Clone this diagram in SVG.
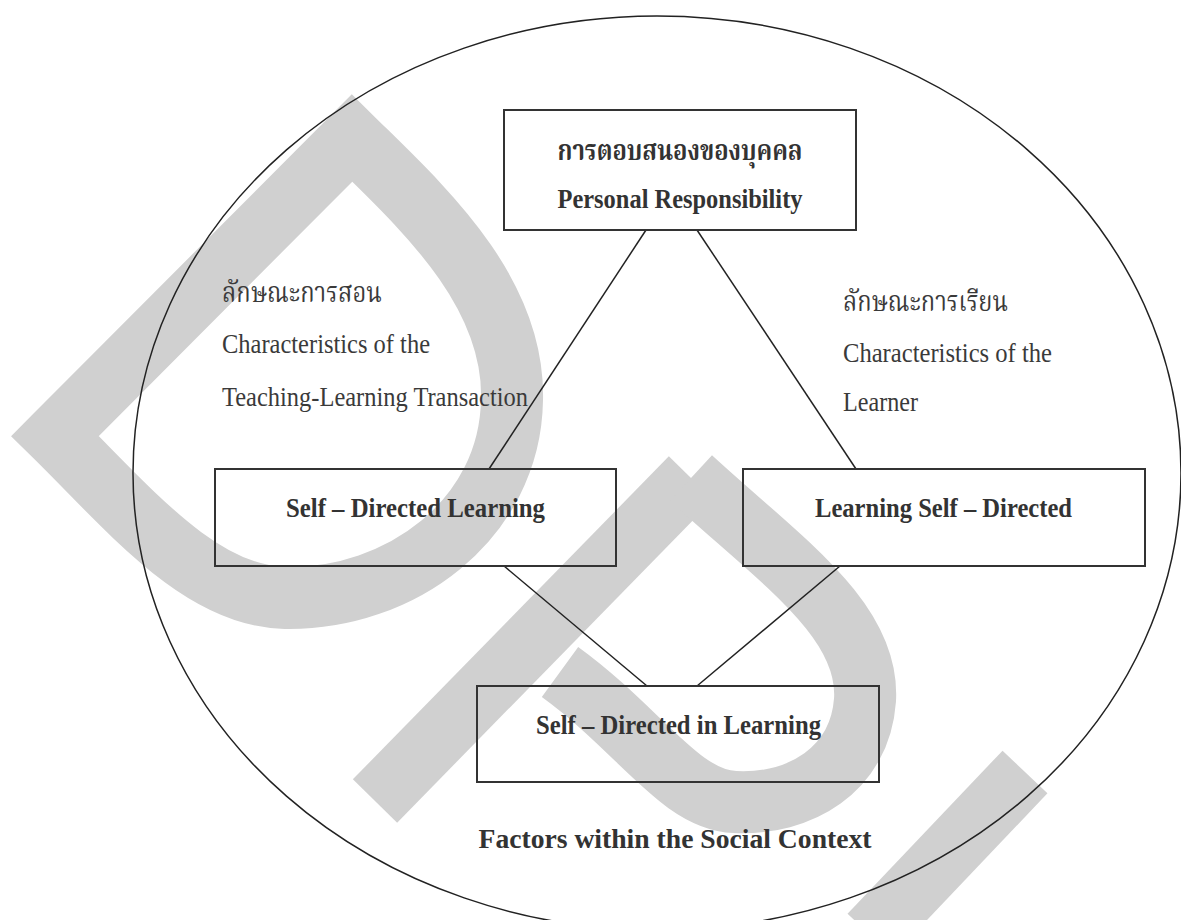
<svg xmlns="http://www.w3.org/2000/svg" width="1181" height="920" viewBox="0 0 1181 920">
<style>
.wm{fill:none;stroke:#d0d0d0;stroke-width:62;stroke-linejoin:miter;stroke-miterlimit:10;stroke-linecap:butt}
.box{fill:none;stroke:#333;stroke-width:2}
.ln{fill:none;stroke:#222;stroke-width:1.5}
.b{font-family:"Liberation Serif","Times New Roman",serif;font-weight:bold;font-size:28px;fill:#333}
.r{font-family:"Liberation Serif","Times New Roman",serif;font-size:28px;fill:#3a3a3a}
.th{font-family:"Liberation Serif","Noto Serif Thai","Noto Sans Thai","Garuda","Loma",serif}
</style>
<rect width="1181" height="920" fill="#fff"/>
<g id="watermark">
<path class="wm" d="M 55 436 L 352 138 C 420 205 515 290 512 400 C 510 520 400 600 285 598 C 200 596 130 510 55 436 Z"/>
<path class="wm" d="M 375 801 L 691 478"/>
<path class="wm" d="M 691 478 C 780 560 870 620 865 700 C 860 770 800 805 735 802 C 680 800 640 730 560 672"/>
<path class="wm" d="M 1025 772 L 870 935"/>
</g>
<ellipse id="context" cx="657" cy="473" rx="524" ry="457" fill="none" stroke="#222" stroke-width="1.5"/>
<g id="connectors">
<line class="ln" x1="646" y1="230" x2="489" y2="469"/>
<line class="ln" x1="697" y1="230" x2="856" y2="469"/>
<line class="ln" x1="504" y1="566" x2="647" y2="686"/>
<line class="ln" x1="840" y1="566" x2="697" y2="686"/>
</g>
<g id="personal">
<rect class="box" x="504" y="110" width="352" height="120"/>
<text class="b th" x="680" y="160" text-anchor="middle" textLength="245" lengthAdjust="spacingAndGlyphs">การตอบสนองของบุคคล</text>
<text class="b" x="680" y="208" text-anchor="middle" textLength="245" lengthAdjust="spacingAndGlyphs">Personal Responsibility</text>
</g>
<g id="teaching-label">
<text class="r th" x="222" y="302" textLength="160" lengthAdjust="spacingAndGlyphs">ลักษณะการสอน</text>
<text class="r" x="222" y="353" textLength="208" lengthAdjust="spacingAndGlyphs">Characteristics of the</text>
<text class="r" x="222" y="406" textLength="306" lengthAdjust="spacingAndGlyphs">Teaching-Learning Transaction</text>
</g>
<g id="learner-label">
<text class="r th" x="843" y="311" textLength="165" lengthAdjust="spacingAndGlyphs">ลักษณะการเรียน</text>
<text class="r" x="843" y="362" textLength="209" lengthAdjust="spacingAndGlyphs">Characteristics of the</text>
<text class="r" x="843" y="411" textLength="75" lengthAdjust="spacingAndGlyphs">Learner</text>
</g>
<g id="sdl">
<rect class="box" x="215" y="469" width="401" height="97"/>
<text class="b" x="415.5" y="517" text-anchor="middle" textLength="259" lengthAdjust="spacingAndGlyphs">Self – Directed Learning</text>
</g>
<g id="lsd">
<rect class="box" x="743" y="469" width="402" height="97"/>
<text class="b" x="943.5" y="517" text-anchor="middle" textLength="257" lengthAdjust="spacingAndGlyphs">Learning Self – Directed</text>
</g>
<g id="sdil">
<rect class="box" x="477" y="686" width="402" height="96"/>
<text class="b" x="678.5" y="734" text-anchor="middle" textLength="285" lengthAdjust="spacingAndGlyphs">Self – Directed in Learning</text>
</g>
<g id="social">
<text class="b" x="675" y="848" text-anchor="middle" textLength="393" lengthAdjust="spacingAndGlyphs">Factors within the Social Context</text>
</g>
</svg>
